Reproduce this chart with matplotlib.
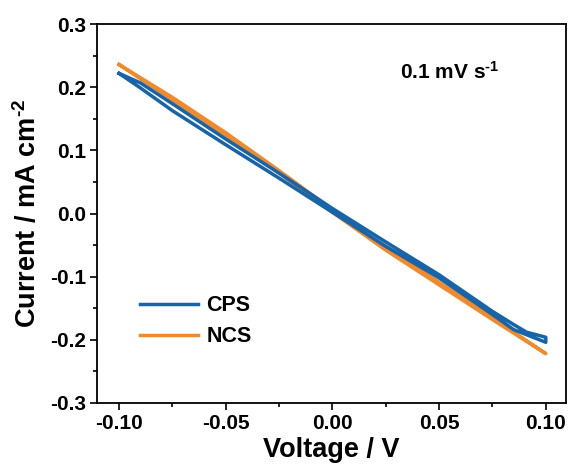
import matplotlib
matplotlib.use("Agg")
import matplotlib.pyplot as plt
from matplotlib.ticker import MultipleLocator, FormatStrFormatter

plt.rcParams['font.family'] = ['Liberation Sans', 'DejaVu Sans']
plt.rcParams['font.weight'] = 'bold'
plt.rcParams['axes.unicode_minus'] = False
plt.rcParams['mathtext.fontset'] = 'custom'
plt.rcParams['mathtext.rm'] = 'Liberation Sans:bold'
plt.rcParams['mathtext.bf'] = 'Liberation Sans:bold'
plt.rcParams['mathtext.default'] = 'bf'

# CPS: sweep -0.1 V -> 0.1 V (lower branch), then back (upper branch)
cps_v = [-0.100, -0.090, -0.075, -0.050, -0.025, 0.000, 0.025, 0.050, 0.075, 0.085, 0.100,
         0.100, 0.091, 0.085, 0.075, 0.050, 0.025, 0.000, -0.025, -0.050, -0.075, -0.090, -0.100]
cps_i = [0.222, 0.199, 0.163, 0.109, 0.056, 0.002, -0.052, -0.102, -0.160, -0.184, -0.204,
         -0.196, -0.188, -0.176, -0.155, -0.097, -0.045, 0.008, 0.064, 0.118, 0.174, 0.207, 0.222]

# NCS: sweep -0.1 V -> 0.1 V, then back
ncs_v = [-0.100, -0.075, -0.050, -0.025, 0.000, 0.025, 0.050, 0.075, 0.100,
         0.100, 0.075, 0.050, 0.025, 0.000, -0.025, -0.050, -0.075, -0.100]
ncs_i = [0.236, 0.180, 0.124, 0.064, 0.002, -0.058, -0.113, -0.168, -0.222,
         -0.222, -0.165, -0.109, -0.054, 0.006, 0.068, 0.128, 0.184, 0.236]

fig = plt.figure(figsize=(5.71, 4.74), dpi=100)
ax = fig.add_axes([0.170, 0.150, 0.821, 0.799])

ax.plot(cps_v, cps_i, color='#1764a8', lw=2.5, label='CPS', zorder=3)
ax.plot(ncs_v, ncs_i, color='#f08a2a', lw=2.5, label='NCS', zorder=2)

ax.set_xlim(-0.1103, 0.1094)
ax.set_ylim(-0.3, 0.3)
ax.xaxis.set_major_locator(MultipleLocator(0.05))
ax.xaxis.set_minor_locator(MultipleLocator(0.025))
ax.yaxis.set_major_locator(MultipleLocator(0.1))
ax.yaxis.set_minor_locator(MultipleLocator(0.05))
ax.xaxis.set_major_formatter(FormatStrFormatter('%.2f'))
ax.yaxis.set_major_formatter(FormatStrFormatter('%.1f'))
ax.tick_params(which='major', direction='out', length=5, width=1.2, labelsize=15, pad=3)
ax.tick_params(which='minor', direction='out', length=3, width=1.2)
for s in ax.spines.values():
    s.set_linewidth(1.3)

ax.set_xlabel('Voltage / V', fontsize=19.5, fontweight='bold', labelpad=3)
ax.set_ylabel(r'Current / mA cm$^{\text{-}2}$', fontsize=19.5, fontweight='bold', labelpad=6)

ax.text(0.0316, 0.224, r'0.1 mV s$^{\text{-}1}$', fontsize=15, fontweight='bold', va='center')

ax.legend(loc='lower left', bbox_to_anchor=(0.05, 0.096), frameon=False,
          prop={'size': 15.5, 'weight': 'bold'}, handlelength=2.7, handletextpad=0.4,
          labelspacing=0.45)

fig.savefig('out.png', dpi=100)
